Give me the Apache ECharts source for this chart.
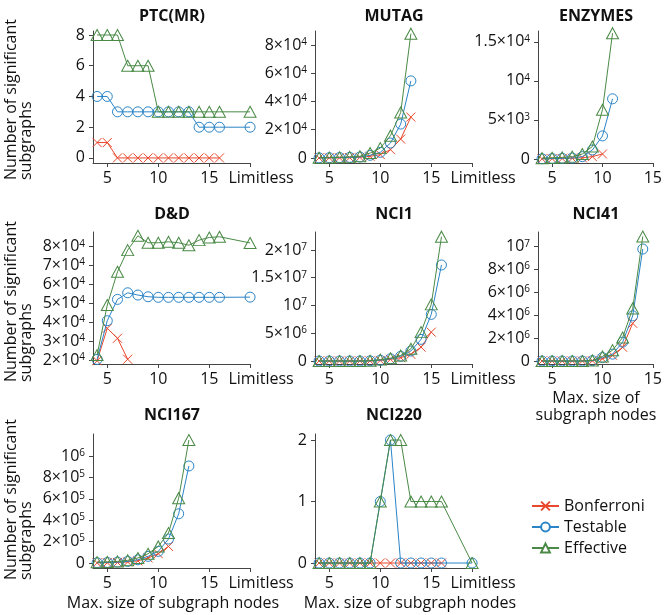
<!DOCTYPE html>
<html>
<head>
<meta charset="utf-8">
<title>Significant subgraphs</title>
<script src="https://cdn.jsdelivr.net/npm/echarts@6/dist/echarts.min.js"></script>
<style>html,body{margin:0;padding:0;background:#fff}#main{width:665px;height:615px}</style>
</head>
<body>
<div id="main"></div>
<script>
// max. size of subgraph nodes; "Limitless" is drawn after 16
var sizes = [4, 5, 6, 7, 8, 9, 10, 11, 12, 13, 14, 15, 16];
var xTicks = [5, 10, 15];
var seriesNames = ['Bonferroni', 'Testable', 'Effective'];

// values start at size 4; arrays stop where a curve stops. *Lim = [Bonferroni, Testable, Effective] at "Limitless"
var ptcB = [1, 1, 0, 0, 0, 0, 0, 0, 0, 0, 0, 0, 0];
var ptcT = [4, 4, 3, 3, 3, 3, 3, 3, 3, 3, 2, 2, 2];
var ptcE = [8, 8, 8, 6, 6, 6, 3, 3, 3, 3, 3, 3, 3];
var ptcLim = [null, 2, 3];
var ptcTicks = [0, 2, 4, 6, 8];

var mutagB = [50, 100, 150, 250, 500, 1200, 2400, 5900, 13400, 29000];
var mutagT = [100, 200, 300, 450, 700, 1900, 4000, 10600, 24000, 54600];
var mutagE = [200, 300, 500, 800, 1200, 3500, 7000, 15800, 32200, 88000];
var mutagLim = [null, null, null];
var mutagTicks = [0, 20000, 40000, 60000, 80000];

var enzB = [20, 40, 60, 100, 150, 300, 640];
var enzT = [30, 50, 80, 120, 300, 1150, 2950, 7700];
var enzE = [100, 150, 200, 300, 640, 1600, 6300, 16100];
var enzLim = [null, null, null];
var enzTicks = [0, 5000, 10000, 15000];

var ddB = [19600, 36800, 31500, 20400];
var ddT = [20300, 40800, 52100, 55600, 54400, 53500, 53200, 53200, 53200, 53200, 53200, 53200, 53200];
var ddE = [22600, 49100, 66700, 78200, 85800, 82100, 82100, 82600, 82100, 80800, 83500, 84900, 85300];
var ddLim = [null, 53300, 82000];
var ddTicks = [20000, 30000, 40000, 50000, 60000, 70000, 80000];

var nci1B = [0, 0, 0, 0, 0, 20000, 100000, 300000, 600000, 1200000, 2500000, 5200000];
var nci1T = [0, 0, 0, 0, 0, 30000, 150000, 400000, 850000, 1800000, 3900000, 8400000, 17300000];
var nci1E = [0, 0, 0, 0, 0, 50000, 250000, 500000, 1000000, 2200000, 5200000, 10200000, 22400000];
var nci1Lim = [null, null, null];
var nci1Ticks = [0, 5000000, 10000000, 15000000, 20000000];

var nci41B = [0, 0, 0, 0, 0, 20000, 200000, 500000, 1200000, 3300000];
var nci41T = [0, 0, 0, 0, 0, 30000, 300000, 600000, 1650000, 3950000, 9800000];
var nci41E = [0, 0, 0, 0, 0, 50000, 400000, 950000, 2050000, 4600000, 10900000];
var nci41Lim = [null, null, null];
var nci41Ticks = [0, 2000000, 4000000, 6000000, 8000000, 10000000];

var nci167B = [2000, 3000, 5000, 10000, 20000, 47000, 87000, 155000];
var nci167T = [3000, 5000, 8000, 15000, 30000, 62000, 109000, 224000, 460000, 907000];
var nci167E = [8000, 10000, 15000, 25000, 47000, 87000, 155000, 280000, 606000, 1150000];
var nci167Lim = [null, null, null];
var nci167Ticks = [0, 200000, 400000, 600000, 800000, 1000000];

var nci220B = [0, 0, 0, 0, 0, 0, 0, 0, 0, 0, 0, 0, 0];
var nci220T = [0, 0, 0, 0, 0, 0, 1, 2, 0, 0, 0, 0, 0];
var nci220E = [0, 0, 0, 0, 0, 0, 1, 2, 2, 1, 1, 1, 1];
var nci220Lim = [null, 0, 0];
var nci220Ticks = [0, 1, 2];

(function () {
    var FONT = '"Open Sans", sans-serif';
    var TXT = '#111';
    var AX = '#444';
    var colors = ['#e8482c', '#2a84c6', '#4a8a46'];
    var LIMITLESS = 19;
    var colLeft = [93, 315, 538];
    var colCenter = [172, 394, 596];
    var rowTop = [31, 232, 434];
    var rowH = [132, 132, 134];
    var pxPerUnit = 10.2;
    var xMin = 3.6;

    var panels = [
        { title: 'PTC(MR)', col: 0, row: 0, y: [-0.33, 8.26], ticks: ptcTicks, d: [ptcB, ptcT, ptcE], lim: ptcLim, limitless: true },
        { title: 'MUTAG', col: 1, row: 0, y: [-3540, 89900], ticks: mutagTicks, d: [mutagB, mutagT, mutagE], lim: mutagLim, limitless: true },
        { title: 'ENZYMES', col: 2, row: 0, y: [-516, 16380], ticks: enzTicks, d: [enzB, enzT, enzE], lim: enzLim, limitless: false },
        { title: 'D&D', col: 0, row: 1, y: [17880, 87800], ticks: ddTicks, d: [ddB, ddT, ddE], lim: ddLim, limitless: true },
        { title: 'NCI1', col: 1, row: 1, y: [-540000, 23240000], ticks: nci1Ticks, d: [nci1B, nci1T, nci1E], lim: nci1Lim, limitless: true },
        { title: 'NCI41', col: 2, row: 1, y: [-262000, 11290000], ticks: nci41Ticks, d: [nci41B, nci41T, nci41E], lim: nci41Lim, limitless: false },
        { title: 'NCI167', col: 0, row: 2, y: [-46700, 1206000], ticks: nci167Ticks, d: [nci167B, nci167T, nci167E], lim: nci167Lim, limitless: true },
        { title: 'NCI220', col: 1, row: 2, y: [-0.081, 2.098], ticks: nci220Ticks, d: [nci220B, nci220T, nci220E], lim: nci220Lim, limitless: true }
    ];

    function sci(v) {
        if (v < 100) return '{b|' + v + '}';
        var e = Math.floor(Math.log10(v) + 1e-9);
        var m = Math.round(v / Math.pow(10, e) * 10) / 10;
        return (m === 1 ? '{b|10}' : '{b|' + m + '×10}') + '{s|' + e + '}';
    }

    var symbols = [
        { symbol: 'path://M0,0L10,10M10,0L0,10', size: 9 },
        { symbol: 'circle', size: 10 },
        { symbol: 'triangle', size: [12, 11] }
    ];

    var grids = [], xAxes = [], yAxes = [], series = [], graphics = [];

    panels.forEach(function (p, i) {
        var xMax = p.limitless ? LIMITLESS : 15;
        grids.push({
            left: colLeft[p.col], top: rowTop[p.row],
            width: (xMax - xMin) * pxPerUnit, height: rowH[p.row]
        });
        var xVals = p.limitless ? xTicks.concat([LIMITLESS]) : xTicks;
        xAxes.push({
            type: 'value', gridIndex: i, min: xMin, max: xMax,
            splitLine: { show: false },
            axisLine: { onZero: false, lineStyle: { color: AX, width: 1 } },
            axisTick: { customValues: xVals, length: 4, lineStyle: { color: AX } },
            axisLabel: {
                customValues: xVals, margin: 7, color: TXT, fontFamily: FONT, fontSize: 16,
                formatter: function (v) { return v === LIMITLESS ? '{l|Limitless}' : String(v); },
                rich: { l: { fontFamily: FONT, fontSize: 16, color: TXT, padding: [0, 0, 0, 22] } }
            }
        });
        yAxes.push({
            type: 'value', gridIndex: i, min: p.y[0], max: p.y[1],
            splitLine: { show: false },
            axisLine: { show: true, onZero: false, lineStyle: { color: AX, width: 1 } },
            axisTick: { show: true, customValues: p.ticks, length: 4, lineStyle: { color: AX } },
            axisLabel: {
                customValues: p.ticks, margin: 8, formatter: sci,
                rich: {
                    b: { fontFamily: FONT, fontSize: 16, color: TXT, lineHeight: 16, verticalAlign: 'bottom' },
                    s: { fontFamily: FONT, fontSize: 10, color: TXT, lineHeight: 10, verticalAlign: 'top' }
                }
            }
        });
        p.d.forEach(function (vals, k) {
            var data = vals.map(function (v, j) { return [sizes[j], v]; });
            if (p.lim[k] !== null) data.push([LIMITLESS, p.lim[k]]);
            series.push({
                name: seriesNames[k], type: 'line', xAxisIndex: i, yAxisIndex: i,
                data: data, clip: false, z: 2 + k,
                symbol: symbols[k].symbol, symbolSize: symbols[k].size,
                lineStyle: { color: colors[k], width: 1 },
                itemStyle: { color: 'none', borderColor: colors[k], borderWidth: 1 },
                emphasis: { disabled: true }
            });
        });
        graphics.push({
            type: 'text', x: colCenter[p.col], y: [16, 214, 415][p.row],
            style: { text: p.title, font: 'bold 16px ' + FONT, fill: TXT, align: 'center', verticalAlign: 'middle' }
        });
    });

    [180, 382, 580].forEach(function (yb) {
        graphics.push({
            type: 'text', x: 18.5, y: yb, rotation: Math.PI / 2,
            style: { text: 'Number of significant\nsubgraphs', font: '16px ' + FONT, fill: TXT, lineHeight: 15, align: 'left', verticalAlign: 'middle' }
        });
    });
    graphics.push({
        type: 'text', x: 173, y: 603,
        style: { text: 'Max. size of subgraph nodes', font: '16px ' + FONT, fill: TXT, align: 'center', verticalAlign: 'middle' }
    });
    graphics.push({
        type: 'text', x: 410, y: 603,
        style: { text: 'Max. size of subgraph nodes', font: '16px ' + FONT, fill: TXT, align: 'center', verticalAlign: 'middle' }
    });
    graphics.push({
        type: 'text', x: 596, y: 406.5,
        style: { text: 'Max. size of\nsubgraph nodes', font: '16px ' + FONT, fill: TXT, lineHeight: 17, align: 'center', verticalAlign: 'middle' }
    });

    var chart = echarts.init(document.getElementById('main'));
    chart.setOption({
        backgroundColor: '#fff',
        animation: false,
        grid: grids,
        xAxis: xAxes,
        yAxis: yAxes,
        legend: {
            orient: 'vertical', left: 526, top: 493,
            itemWidth: 27, itemHeight: 11, itemGap: 5, selectedMode: false,
            textStyle: { fontFamily: FONT, fontSize: 16, color: TXT, lineHeight: 16 },
            data: [
                { name: 'Bonferroni' },
                { name: 'Testable', itemStyle: { color: '#fff' } },
                { name: 'Effective', itemStyle: { color: '#fff' } }
            ]
        },
        graphic: graphics,
        series: series
    });
})();
</script>
</body>
</html>
